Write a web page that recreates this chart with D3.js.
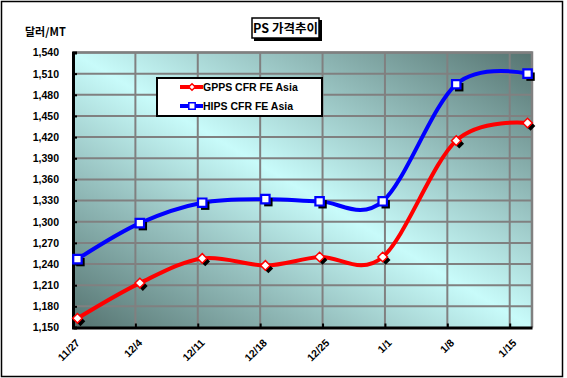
<!DOCTYPE html>
<html>
<head>
<meta charset="UTF-8">
<script src="https://cdn.jsdelivr.net/npm/d3@7"></script>
<style>
  body { margin: 0; background: #fff; }
  text { font-family: "Liberation Sans", Arial, sans-serif; font-weight: bold; }
  .kr { font-family: "Noto Sans CJK KR", "Liberation Sans", sans-serif; }
</style>
</head>
<body>
<div id="container"></div>
<script>
// data
const pointDates = ["2008-11-27T12:00", "2008-12-04T12:00", "2008-12-11T12:00", "2008-12-18T14:00",
                    "2008-12-24T16:00", "2008-12-31T18:00", "2009-01-09T00:00", "2009-01-17T00:00"];
const gpps = [1163, 1213, 1248, 1238, 1250, 1250, 1415, 1440];
const hips = [1247, 1298, 1327, 1332, 1329, 1329, 1495, 1510];
const tickDates = ["2008-11-27", "2008-12-04", "2008-12-11", "2008-12-18", "2008-12-25",
                   "2009-01-01", "2009-01-08", "2009-01-15"];
const tickLabels = ["11/27", "12/4", "12/11", "12/18", "12/25", "1/1", "1/8", "1/15"];
const seriesNames = ["GPPS CFR FE Asia", "HIPS CFR FE Asia"];

const width = 567, height = 378;
const plot = { left: 73, right: 532, top: 52.5, bottom: 327.5 };

const svg = d3.select("#container").append("svg")
  .attr("width", width).attr("height", height);

// outer frame
svg.append("rect").attr("x", 1.5).attr("y", 1.5).attr("width", 561).attr("height", 375)
  .attr("fill", "#fff").attr("stroke", "#000").attr("stroke-width", 1.5);

const parse = s => new Date(s);
const x = d3.scaleTime()
  .domain([parse("2008-11-27T00:00"), parse("2009-01-17T12:00")])
  .range([plot.left, plot.right]);
const y = d3.scaleLinear().domain([1150, 1540]).range([plot.bottom, plot.top]);
const yTicks = d3.range(1150, 1541, 30);

// background gradient
const defs = svg.append("defs");
const grad = defs.append("linearGradient").attr("id", "bg")
  .attr("x1", 1).attr("y1", 0).attr("x2", 0).attr("y2", 1);
grad.append("stop").attr("offset", 0).attr("stop-color", "#557370");
grad.append("stop").attr("offset", 0.5).attr("stop-color", "#c8fbfa");
grad.append("stop").attr("offset", 1).attr("stop-color", "#557370");

svg.append("rect")
  .attr("x", plot.left).attr("y", plot.top)
  .attr("width", plot.right - plot.left).attr("height", plot.bottom - plot.top)
  .attr("fill", "url(#bg)");

// grid
svg.append("g").selectAll("line").data(yTicks.slice(1)).join("line")
  .attr("x1", plot.left).attr("x2", plot.right)
  .attr("y1", d => y(d)).attr("y2", d => y(d))
  .attr("stroke", "#808080").attr("stroke-width", 2);
svg.append("g").selectAll("line").data(tickDates.slice(1)).join("line")
  .attr("x1", d => x(parse(d))).attr("x2", d => x(parse(d)))
  .attr("y1", plot.top).attr("y2", plot.bottom)
  .attr("stroke", "#808080").attr("stroke-width", 2);

// top / right border gray
svg.append("path")
  .attr("d", `M${plot.left},${plot.top}H${plot.right}V${plot.bottom}`)
  .attr("fill", "none").attr("stroke", "#808080").attr("stroke-width", 2.5);

// y axis
const yAxis = d3.axisLeft(y).tickValues(yTicks).tickFormat(d3.format(",")).tickSize(-4).tickPadding(14);
const gy = svg.append("g").attr("transform", `translate(${plot.left},0)`).call(yAxis);
gy.select(".domain").attr("stroke", "#000").attr("stroke-width", 3);
gy.selectAll(".tick line").attr("stroke", "#000").attr("stroke-width", 2);
gy.selectAll(".tick text").attr("font-size", 10.5).attr("fill", "#000")
  .style("font-family", "'Liberation Sans', Arial, sans-serif").style("font-weight", "bold");

// x axis
const xAxis = d3.axisBottom(x).tickValues(tickDates.map(parse))
  .tickFormat((d, i) => tickLabels[i]).tickSize(-4).tickSizeOuter(0);
const gx = svg.append("g").attr("transform", `translate(0,${plot.bottom})`).call(xAxis);
gx.select(".domain").attr("stroke", "#000").attr("stroke-width", 3);
gx.selectAll(".tick line").attr("stroke", "#000").attr("stroke-width", 2);
gx.selectAll(".tick text")
  .attr("font-size", 10.5).attr("fill", "#000")
  .style("font-family", "'Liberation Sans', Arial, sans-serif").style("font-weight", "bold")
  .attr("text-anchor", "end")
  .attr("y", 0).attr("dy", 0)
  .attr("transform", "translate(7,16) rotate(-45)");

// lines
const line = d3.line()
  .x(d => x(parse(d.date)))
  .y(d => y(d.value))
  .curve(d3.curveCardinal.tension(0));

const toRows = vals => vals.map((v, i) => ({ date: pointDates[i], value: v }));
const series = [
  { name: seriesNames[0], rows: toRows(gpps), color: "#ff0000" },
  { name: seriesNames[1], rows: toRows(hips), color: "#0000ff" }
];

series.forEach(s => {
  svg.append("path").attr("d", line(s.rows))
    .attr("fill", "none").attr("stroke", s.color).attr("stroke-width", 4);
});

function diamond(r) {
  return `M0,${-r}L${r},0L0,${r}L${-r},0Z`;
}
function square(r) {
  return `M${-r},${-r}H${r}V${r}H${-r}Z`;
}

series.forEach((s, k) => {
  const shapeFn = k === 0 ? diamond(4.8) : square(4.2);
  const g = svg.append("g");
  // shadow
  g.selectAll(".sh").data(s.rows).join("path").attr("class", "sh")
    .attr("d", shapeFn)
    .attr("transform", d => `translate(${x(parse(d.date)) + 3},${y(d.value) + 3})`)
    .attr("fill", "#000");
  g.selectAll(".mk").data(s.rows).join("path").attr("class", "mk")
    .attr("d", shapeFn)
    .attr("transform", d => `translate(${x(parse(d.date))},${y(d.value)})`)
    .attr("fill", "#fff").attr("stroke", s.color).attr("stroke-width", k === 0 ? 1.5 : 2.2);
});

// legend
const lg = svg.append("g");
lg.append("rect").attr("x", 157).attr("y", 78).attr("width", 165).attr("height", 38)
  .attr("fill", "#fff").attr("stroke", "#000").attr("stroke-width", 2);
series.forEach((s, k) => {
  const ly = 87 + k * 19;
  lg.append("line").attr("x1", 180).attr("x2", 203).attr("y1", ly).attr("y2", ly)
    .attr("stroke", s.color).attr("stroke-width", 4);
  lg.append("path").attr("d", k === 0 ? diamond(3.3) : square(3.2))
    .attr("transform", `translate(192,${ly})`)
    .attr("fill", "#fff").attr("stroke", s.color).attr("stroke-width", 1.5);
  lg.append("text").attr("x", 203).attr("y", ly + 4)
    .attr("font-size", 10.5).attr("fill", "#000").text(s.name);
});

// title with shadowed box
svg.append("rect").attr("x", 254).attr("y", 20).attr("width", 68).attr("height", 21).attr("fill", "#000");
svg.append("rect").attr("x", 252).attr("y", 18).attr("width", 67).attr("height", 20)
  .attr("fill", "#fff").attr("stroke", "#000").attr("stroke-width", 1.5);
svg.append("text").attr("class", "kr").attr("x", 285.5).attr("y", 32.5)
  .attr("text-anchor", "middle").attr("font-size", 12.5).attr("fill", "#000").text("PS 가격추이");

// y unit label
svg.append("text").attr("class", "kr").attr("x", 25).attr("y", 36)
  .attr("font-size", 11).attr("fill", "#000").text("달러/MT");
</script>
</body>
</html>
